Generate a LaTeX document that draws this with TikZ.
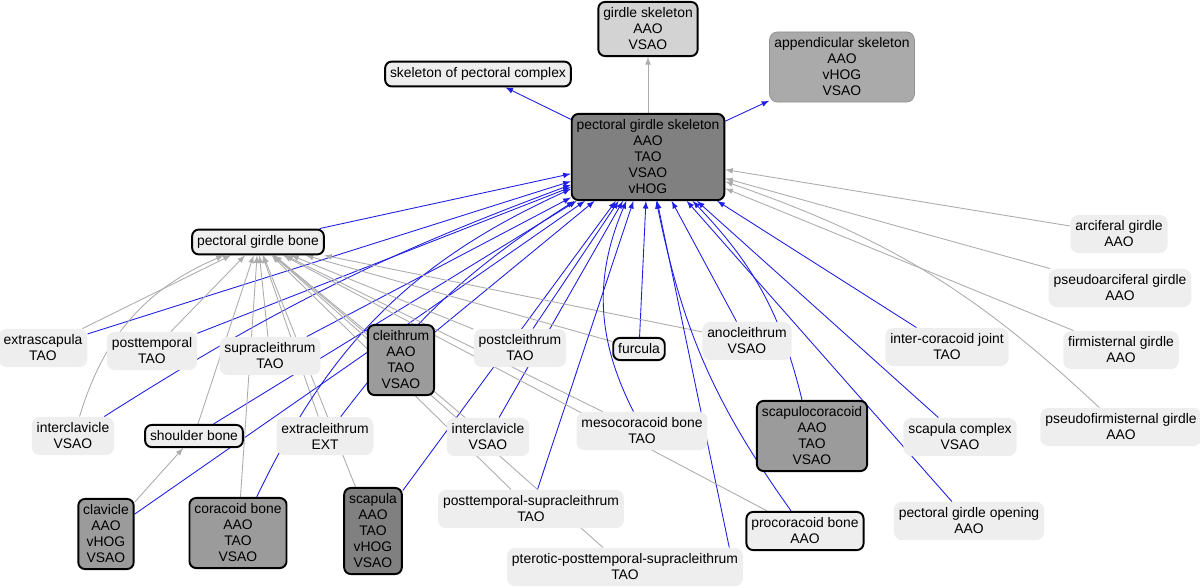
\documentclass[tikz,border=0pt]{standalone}
\usepackage{fontspec}
\setmainfont{Liberation Sans}
\usetikzlibrary{calc, arrows, backgrounds}

\definecolor{partblue}{RGB}{30,30,230}
\definecolor{isagray}{RGB}{172,172,172}
\definecolor{termpale}{RGB}{238,238,238}
\definecolor{termlight}{RGB}{211,211,211}
\definecolor{termapp}{RGB}{170,170,170}
\definecolor{termmid}{RGB}{155,155,155}
\definecolor{termdark}{RGB}{128,128,128}

\begin{document}
\begin{tikzpicture}[>=latex, x=0.02cm, y=-0.02cm,
  every node/.style={font=\fontsize{7.9}{9.1}\selectfont, align=center,
    inner xsep=2.8pt, inner ysep=3.4pt, rounded corners=4.5pt},
  term/.style={fill=termpale},
  framed/.style={draw, line width=1.1pt, rounded corners=3.8pt},
  partof/.style={->, draw=partblue, line width=0.5pt},
  isa/.style={->, draw=isagray, line width=0.5pt}]
  \useasboundingbox (0,0) rectangle (1200,588);

  % top row
  \node[framed, fill=termlight] (girdskel) at (648,29) {girdle skeleton\\AAO\\VSAO};
  \node[framed, fill=termpale] (skelpc) at (478,74) {skeleton of pectoral complex};
  \node[fill=termapp, draw=termapp!85!black, line width=0.4pt] (appskel) at (842,67) {appendicular skeleton\\AAO\\vHOG\\VSAO};
  \node[framed, fill=termdark] (pgskel) at (648,157) {pectoral girdle skeleton\\AAO\\TAO\\VSAO\\vHOG};
  \node[framed, fill=termpale] (pgbone) at (258,242) {pectoral girdle bone};

  % left part
  \node[term] (extrascap) at (43,348) {extrascapula\\TAO};
  \node[term] (posttemp) at (152,351) {posttemporal\\TAO};
  \node[term] (supracl) at (270,356) {supracleithrum\\TAO};
  \node[framed, fill=termmid] (cleith) at (401,360) {cleithrum\\AAO\\TAO\\VSAO};
  \node[term] (intercl) at (73,436) {interclavicle\\VSAO};
  \node[framed, fill=termpale] (shoulder) at (194,436) {shoulder bone};
  \node[term] (extracl) at (325,436) {extracleithrum\\EXT};
  \node[framed, fill=termmid] (clavicle) at (106,534) {clavicle\\AAO\\vHOG\\VSAO};
  \node[framed, fill=termmid] (coracoid) at (238,533) {coracoid bone\\AAO\\TAO\\VSAO};
  \node[framed, fill=termdark] (scapula) at (373,531) {scapula\\AAO\\TAO\\vHOG\\VSAO};

  % middle part
  \node[term] (postcl) at (520,348) {postcleithrum\\TAO};
  \node[term] (intercl2) at (488,437) {interclavicle\\VSAO};
  \node[framed, fill=termpale] (furcula) at (639,349) {furcula};
  \node[term] (anocl) at (747,341) {anocleithrum\\VSAO};
  \node[term] (mesocor) at (642,431) {mesocoracoid bone\\TAO};
  \node[term] (ptsupra) at (531,509) {posttemporal-supracleithrum\\TAO};
  \node[term] (pterotic) at (625,567) {pterotic-posttemporal-supracleithrum\\TAO};
  \node[framed, fill=termmid] (scapcor) at (812,436) {scapulocoracoid\\AAO\\TAO\\VSAO};
  \node[framed, fill=termpale] (procor) at (805,531) {procoracoid bone\\AAO};

  % right part
  \node[term] (intercor) at (947,347) {inter-coracoid joint\\TAO};
  \node[term] (scapcx) at (960,437) {scapula complex\\VSAO};
  \node[term] (pgopen) at (969,521) {pectoral girdle opening\\AAO};
  \node[term] (arcif) at (1119,234) {arciferal girdle\\AAO};
  \node[term] (pseudoarc) at (1120,288) {pseudoarciferal girdle\\AAO};
  \node[term] (firmist) at (1121,350) {firmisternal girdle\\AAO};
  \node[term] (pseudofirm) at (1121,427) {pseudofirmisternal girdle\\AAO};

  \begin{scope}[on background layer]
    \draw (pgskel) edge[partof] (skelpc) edge[isa] (girdskel) edge[partof] (appskel);
    \draw (pgbone) edge[partof] (pgskel);

    \draw (extrascap) edge[partof] (pgskel) edge[isa] (pgbone);
    \draw (posttemp) edge[partof] (pgskel) edge[isa] (pgbone);
    \draw (supracl) edge[partof] (pgskel) edge[isa] (pgbone);
    \draw (cleith) edge[partof] (pgskel) edge[isa] (pgbone);
    \draw (intercl) edge[partof, bend left = 6] (pgskel) edge[isa, bend left = 25] (pgbone);
    \draw (shoulder) edge[partof] (pgskel) edge[isa] (pgbone);
    \draw (extracl) edge[partof, bend left = 10] (pgskel) edge[isa] (pgbone);
    \draw (clavicle) edge[partof] (pgskel) edge[isa] (shoulder);
    \draw (coracoid) edge[partof, bend left = 20] (pgskel) edge[isa] (pgbone);
    \draw (scapula) edge[partof] (pgskel) edge[isa] (pgbone);

    \draw (postcl) edge[partof] (pgskel) edge[isa] (pgbone);
    \draw (intercl2) edge[partof] (pgskel) edge[isa] (pgbone);
    \draw (furcula) edge[partof] (pgskel) edge[isa] (pgbone);
    \draw (anocl) edge[partof] (pgskel) edge[isa] (pgbone);
    \draw (mesocor) edge[partof, bend left = 25] (pgskel) edge[isa] (pgbone);
    \draw (ptsupra) edge[partof] (pgskel) edge[isa] (pgbone);
    \draw ($(pterotic.north east)+(-14,0)$) edge[partof] (pgskel);
    \draw (pterotic) edge[isa] (pgbone);
    \draw (scapcor) edge[partof, bend right = 15] (pgskel);
    \draw (procor) edge[partof, bend left = 12] (pgskel) edge[isa] (pgbone);

    \draw (intercor) edge[partof] (pgskel);
    \draw (scapcx) edge[partof] (pgskel);
    \draw (pgopen) edge[partof] (pgskel);
    \draw (arcif) edge[isa] (pgskel);
    \draw (pseudoarc) edge[isa] (pgskel);
    \draw (firmist) edge[isa] (pgskel);
    \draw (pseudofirm) edge[isa, bend right = 12] (pgskel);
  \end{scope}
\end{tikzpicture}
\end{document}
